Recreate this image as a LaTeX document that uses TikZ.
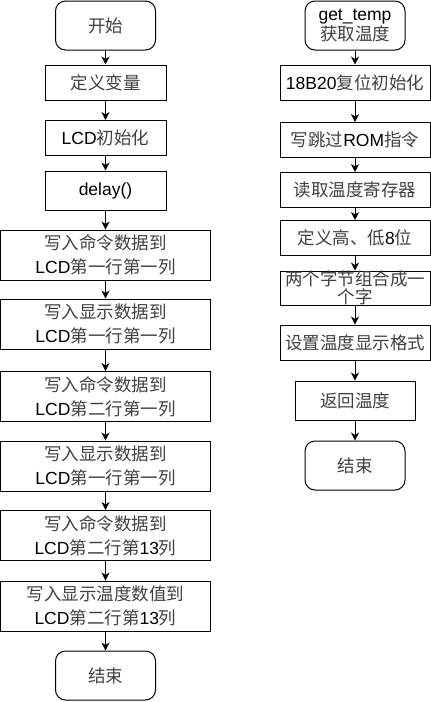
\documentclass[tikz,border=0pt]{standalone}
\usepackage{fontspec}
\setmainfont{Liberation Sans}
\newfontfamily\cjk{Noto Sans CJK SC}
\usetikzlibrary{arrows.meta}
\newcommand{\zh}[1]{{\cjk\color{black!75}#1}}

\begin{document}
\begin{tikzpicture}[x=1pt, y=-1pt,
  box/.style={draw, line width=1pt, inner sep=0pt, align=center,
    font=\fontsize{17.5}{24}\selectfont},
  term/.style={box, rounded corners=10pt, minimum width=100pt, minimum height=49pt},
  small/.style={box, minimum width=121pt, minimum height=35pt},
  wide/.style={box, minimum width=210pt, minimum height=50pt},
  mid/.style={box, minimum width=150pt, minimum height=35pt},
  arr/.style={line width=1pt, -{Stealth[length=8pt, width=8pt, inset=2.5pt]}}]
\useasboundingbox (0,0) rectangle (431,702);
% main program
\node[term] (start) at (105.5,25.5) {\zh{开始}};
\node[small] (vars) at (105.5,82.5) {\zh{定义变量}};
\node[small] (lcdinit) at (105.5,138) {LCD\zh{初始化}};
\node[small, minimum height=39pt] (delay) at (105.5,190.5) {delay()};
\node[wide] (cmdA) at (105.5,255) {\zh{写入命令数据到}\\LCD\zh{第一行第一列}};
\node[wide] (dispA) at (105.5,324) {\zh{写入显示数据到}\\LCD\zh{第一行第一列}};
\node[wide] (cmdB) at (105.5,396.5) {\zh{写入命令数据到}\\LCD\zh{第二行第一列}};
\node[wide] (dispB) at (105.5,466) {\zh{写入显示数据到}\\LCD\zh{第一行第一列}};
\node[wide] (cmdC) at (105.5,535.5) {\zh{写入命令数据到}\\LCD\zh{第二行第}13\zh{列}};
\node[wide] (dispT) at (105.5,606) {\zh{写入显示温度数值到}\\LCD\zh{第二行第}13\zh{列}};
\node[term] (stop) at (105.5,675.5) {\zh{结束}};
\draw[arr] (start.south) -- (vars.north);
\draw[arr] (vars.south) -- (lcdinit.north);
\draw[arr] (lcdinit.south) -- (delay.north);
\draw[arr] (delay.south) -- (cmdA.north);
\draw[arr] (cmdA.south) -- (dispA.north);
\draw[arr] (dispA.south) -- (cmdB.north);
\draw[arr] (cmdB.south) -- (dispB.north);
\draw[arr] (dispB.south) -- (cmdC.north);
\draw[arr] (cmdC.south) -- (dispT.north);
\draw[arr] (dispT.south) -- (stop.north);
% get_temp
\node[term, font=\fontsize{17.5}{20}\selectfont] (gettemp) at (355,25.5) {get\_temp\\\zh{获取温度}};
\node[mid] (reset) at (355,82.5) {18B20\zh{复位初始化}};
\node[mid] (skiprom) at (355,140) {\zh{写跳过}ROM\zh{指令}};
\node[mid] (readreg) at (355,190) {\zh{读取温度寄存器}};
\node[mid] (hilo) at (355,238) {\zh{定义高、低}8\zh{位}};
\node[mid, minimum height=34pt] (join) at (355,288) {};
\node[font=\fontsize{17.5}{17.6}\selectfont, align=center] (jointext) at (join) {\zh{两个字节组合成一}\\\zh{个字}};
\node[mid] (fmt) at (355,342.5) {\zh{设置温度显示格式}};
\node[box, minimum width=120pt, minimum height=39pt] (ret) at (355,400.5) {\zh{返回温度}};
\node[term] (fin) at (355,465.5) {\zh{结束}};
\draw[arr] (gettemp.south) -- (reset.north);
\draw[arr] (reset.south) -- (skiprom.north);
\draw[arr] (skiprom.south) -- (readreg.north);
\draw[arr] (readreg.south) -- (hilo.north);
\draw[arr] (hilo.south) -- (join.north);
\draw[arr] (join.south) -- (fmt.north);
\draw[arr] (fmt.south) -- (ret.north);
\draw[arr] (ret.south) -- (fin.north);
\end{tikzpicture}
\end{document}
